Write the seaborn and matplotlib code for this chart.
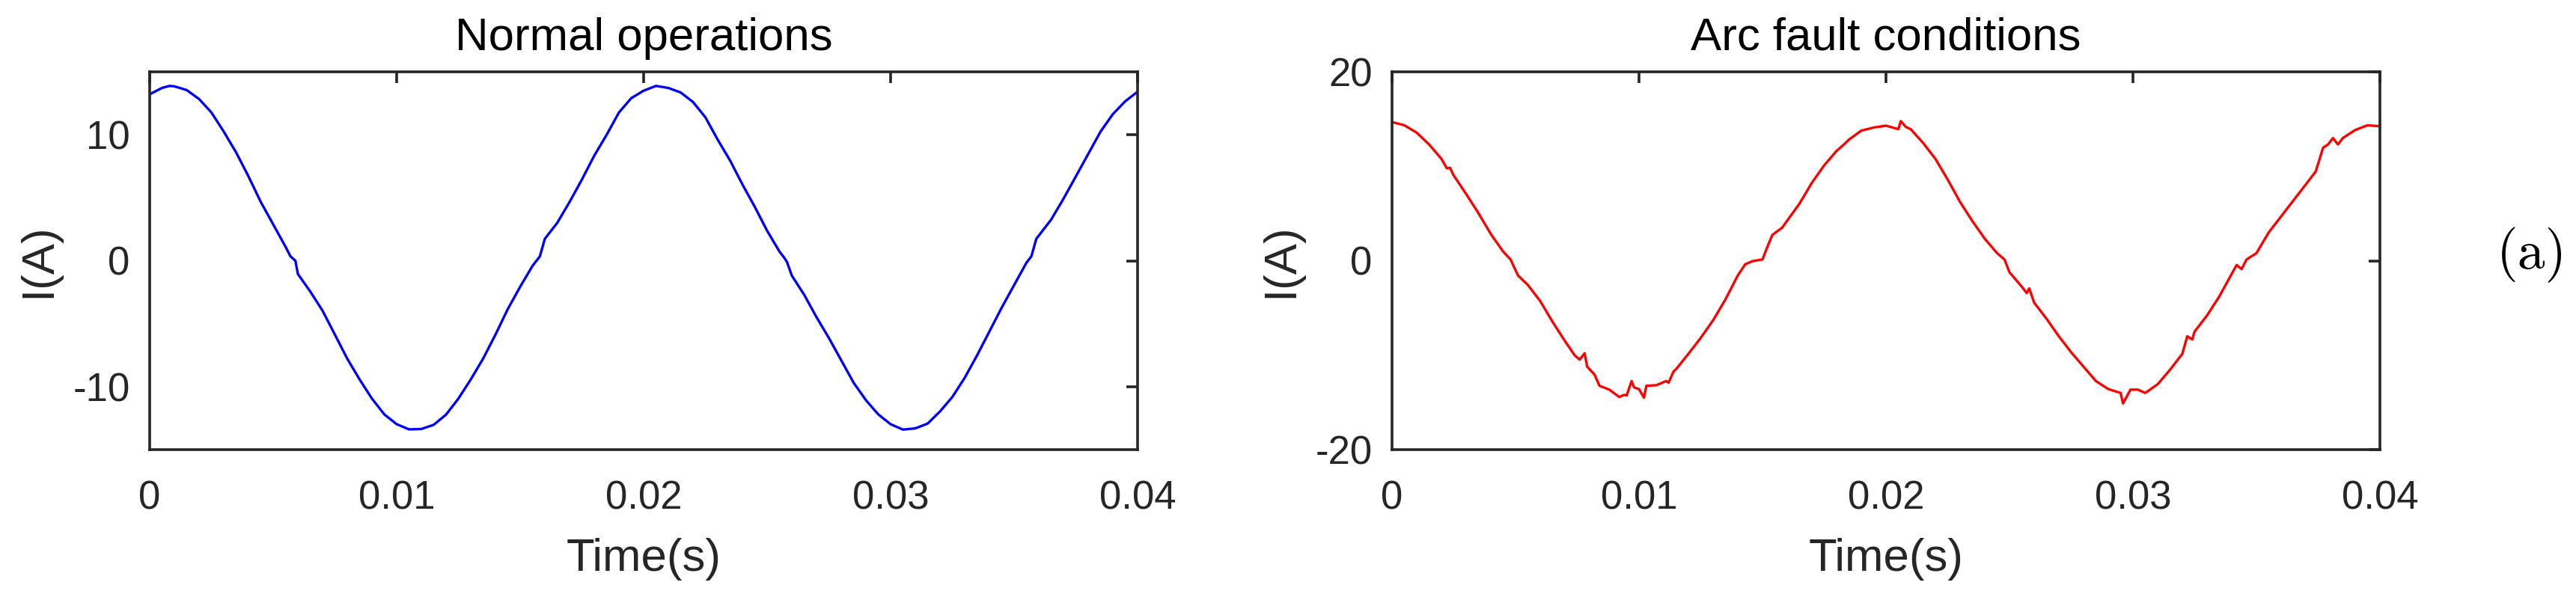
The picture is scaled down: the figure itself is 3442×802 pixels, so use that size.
import numpy as np
import pandas as pd
import matplotlib
matplotlib.use("Agg")
import matplotlib.pyplot as plt
import seaborn as sns

# ---------------- data ----------------
normal_t = [0.0, 0.0005, 0.0008, 0.001, 0.0015, 0.002, 0.0025, 0.003, 0.0035, 0.004,
            0.0045, 0.005, 0.0055, 0.0057, 0.0059, 0.006, 0.0065, 0.007, 0.0075, 0.008,
            0.0085, 0.009, 0.0095, 0.01, 0.0105, 0.011, 0.0115, 0.012, 0.0125, 0.013,
            0.0135, 0.014, 0.0145, 0.015, 0.0155, 0.0158, 0.016, 0.0165, 0.017, 0.0175,
            0.018, 0.0185, 0.019, 0.0195, 0.02, 0.0205, 0.021, 0.0215, 0.022, 0.0225,
            0.023, 0.0235, 0.024, 0.0245, 0.025, 0.0255, 0.0257, 0.0258, 0.026, 0.0265,
            0.027, 0.0275, 0.028, 0.0285, 0.029, 0.0295, 0.03, 0.0305, 0.031, 0.0315,
            0.032, 0.0325, 0.033, 0.0335, 0.034, 0.0345, 0.035, 0.0355, 0.0357, 0.0359,
            0.0365, 0.037, 0.0375, 0.038, 0.0385, 0.039, 0.0395, 0.04]
normal_i = [13.22, 13.72, 13.88, 13.85, 13.55, 12.84, 11.77, 10.25, 8.60, 6.70,
            4.66, 2.89, 1.11, 0.35, 0.00, -1.05, -2.44, -3.97, -5.87, -7.78,
            -9.43, -10.95, -12.20, -12.98, -13.39, -13.36, -13.03, -12.22, -10.95, -9.43,
            -7.78, -5.87, -3.84, -2.07, -0.41, 0.35, 1.74, 3.00, 4.66, 6.44,
            8.34, 9.99, 11.77, 12.91, 13.50, 13.88, 13.72, 13.36, 12.60, 11.39,
            9.61, 7.96, 6.06, 4.28, 2.38, 0.73, 0.22, -0.08, -1.18, -2.70,
            -4.48, -6.13, -7.90, -9.68, -11.07, -12.20, -12.98, -13.41, -13.31, -12.93,
            -11.97, -10.82, -9.30, -7.52, -5.62, -3.72, -1.94, -0.16, 0.35, 1.74,
            3.26, 4.92, 6.69, 8.47, 10.25, 11.64, 12.66, 13.42]

arc_t = [0.0, 0.0005, 0.001, 0.0015, 0.002, 0.00222, 0.00235, 0.00248, 0.003, 0.0035,
         0.004, 0.0045, 0.0048, 0.0051, 0.0055, 0.006, 0.0065, 0.007, 0.0074, 0.0076,
         0.0078, 0.0079, 0.0082, 0.0084, 0.0088, 0.0092, 0.0094, 0.0095, 0.0097, 0.0098,
         0.01, 0.0102, 0.0103, 0.0107, 0.0111, 0.0112, 0.0114, 0.0115, 0.012, 0.0125,
         0.013, 0.0135, 0.014, 0.0143, 0.0146, 0.015, 0.0152, 0.0154, 0.0158, 0.0165,
         0.017, 0.0175, 0.018, 0.0183, 0.0185, 0.019, 0.0195, 0.02, 0.0205, 0.0206,
         0.0208, 0.021, 0.0215, 0.022, 0.0225, 0.023, 0.0235, 0.024, 0.0245, 0.0248,
         0.025, 0.0255, 0.0257, 0.0258, 0.026, 0.0265, 0.027, 0.0275, 0.028, 0.0285,
         0.029, 0.0295, 0.0296, 0.0299, 0.0302, 0.0305, 0.031, 0.0315, 0.032, 0.0322,
         0.0324, 0.0325, 0.033, 0.0335, 0.034, 0.0342, 0.0344, 0.0346, 0.035, 0.0355,
         0.036, 0.0365, 0.037, 0.0374, 0.0375, 0.0377, 0.0379, 0.0381, 0.0383, 0.0385,
         0.039, 0.0395, 0.04]
arc_i = [14.68, 14.34, 13.56, 12.31, 10.79, 9.78, 9.84, 9.10, 7.07, 5.03,
         2.83, 0.97, 0.13, -1.56, -2.57, -4.27, -6.47, -8.50, -10.03, -10.47,
         -9.79, -11.21, -12.06, -13.24, -13.65, -14.43, -14.20, -14.27, -12.74, -13.42,
         -13.59, -14.50, -13.24, -13.18, -12.74, -12.91, -11.72, -11.49, -9.86, -8.17,
         -6.31, -4.10, -1.56, -0.38, -0.04, 0.13, 1.48, 2.73, 3.51, 6.05,
         8.25, 10.10, 11.63, 12.31, 12.82, 13.77, 14.10, 14.30, 13.93, 14.78,
         14.17, 13.93, 12.48, 10.79, 8.59, 6.22, 4.19, 2.33, 0.80, 0.13,
         -1.22, -2.75, -3.43, -2.93, -4.44, -6.14, -8.00, -9.70, -11.22, -12.74,
         -13.59, -14.00, -15.11, -13.65, -13.65, -14.00, -13.08, -11.55, -9.86, -8.00,
         -8.34, -7.49, -5.80, -3.77, -1.39, -0.45, -0.89, 0.13, 0.80, 3.00,
         4.69, 6.39, 8.08, 9.44, 10.28, 11.97, 12.31, 12.99, 12.31, 12.99,
         13.84, 14.34, 14.24]

titles = ["Normal operations", "Arc fault conditions"]
x_ticks = [0, 0.01, 0.02, 0.03, 0.04]
x_ticklabels = ["0", "0.01", "0.02", "0.03", "0.04"]
normal_yticks = [-10, 0, 10]
normal_yticklabels = ["-10", "0", "10"]
arc_yticks = [-20, 0, 20]
arc_yticklabels = ["-20", "0", "20"]
normal_ylim = (-15, 15)
arc_ylim = (-20, 20)
x_label = "Time(s)"
y_label = "I(A)"
panel_tag = "(a)"

# ---------------- style ----------------
sns.set_style("white")
plt.rcParams["font.family"] = ["Liberation Sans", "DejaVu Sans"]

W, H = 3442, 802
fig = plt.figure(figsize=(W / 100, H / 100), dpi=100)

axes_box = [(200, 96, 1320, 505), (1860, 96, 1320, 505)]
dark = "#262626"

df_n = pd.DataFrame({"t": normal_t, "I": normal_i})
df_a = pd.DataFrame({"t": arc_t, "I": arc_i})

specs = [
    (df_n, "#0000ff", normal_ylim, normal_yticks, normal_yticklabels),
    (df_a, "#ff0000", arc_ylim, arc_yticks, arc_yticklabels),
]

for k, ((x0, y0, w, h), (df, col, ylim, yt, ytl)) in enumerate(zip(axes_box, specs)):
    ax = fig.add_axes([x0 / W, 1 - (y0 + h) / H, w / W, h / H])
    sns.lineplot(data=df, x="t", y="I", ax=ax, color=col, linewidth=2.4,
                 estimator=None, sort=False)
    ax.set_xlim(0, 0.04)
    ax.set_ylim(*ylim)
    ax.set_xticks(x_ticks)
    ax.set_xticklabels(x_ticklabels)
    ax.set_yticks(yt)
    ax.set_yticklabels(ytl)
    ax.tick_params(direction="in", top=True, right=True, length=11, width=2.6,
                   color=dark, labelcolor=dark, labelsize=38)
    ax.tick_params(axis="x", pad=29)
    ax.tick_params(axis="y", pad=19)
    for s in ax.spines.values():
        s.set_linewidth(2.6)
        s.set_color(dark)
        s.set_visible(True)
    ax.set_title(titles[k], fontsize=44.5, color="black", pad=21)
    ax.set_xlabel(x_label, fontsize=44.5, color=dark)
    ax.set_ylabel(y_label, fontsize=44.5, color=dark)
    ax.xaxis.set_label_coords(0.5, -0.2337)
    ax.yaxis.set_label_coords(-0.0909, 0.5)
    ax.grid(False)

fig.text(3383 / W, 1 - 341 / H, panel_tag, fontsize=53, family="cmr10",
         ha="center", va="center", color="black")

fig.savefig("out.png", dpi=100)
